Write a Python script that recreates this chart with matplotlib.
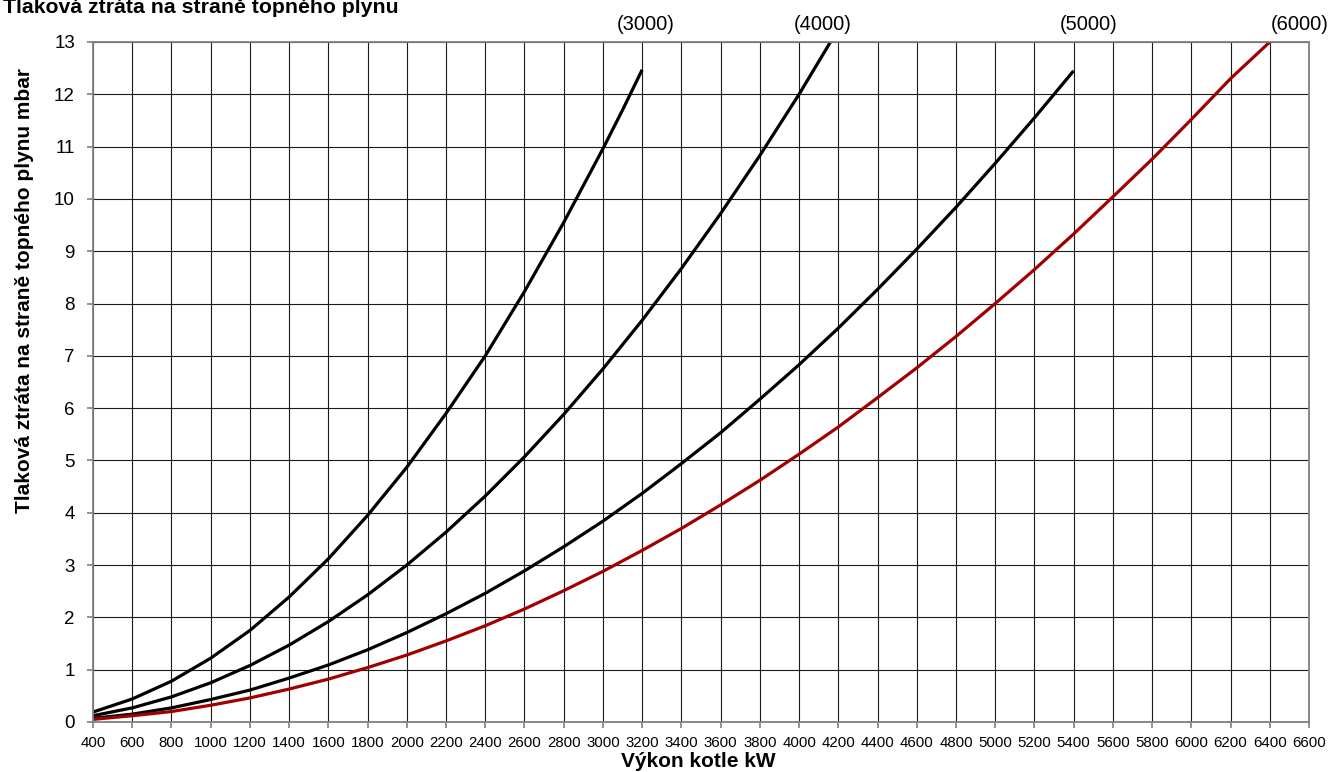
import matplotlib
matplotlib.use("Agg")
import matplotlib.pyplot as plt

plt.rcParams['font.family'] = ['Liberation Sans', 'DejaVu Sans']

title = "Tlaková ztráta na straně topného plynu"
x_label = "Výkon kotle kW"
y_label = "Tlaková ztráta na straně topného plynu mbar"

x_ticks = list(range(400, 6601, 200))
y_ticks = list(range(0, 14))

# Curve (3000)
x_3000 = [400, 600, 800, 1000, 1200, 1400, 1600, 1800, 2000, 2200, 2400, 2600, 2800, 3000, 3100, 3200]
y_3000 = [0.19, 0.44, 0.78, 1.22, 1.75, 2.39, 3.12, 3.95, 4.87, 5.9, 7.0, 8.23, 9.55, 10.96, 11.7, 12.47]

# Curve (4000)
x_4000 = [400, 600, 800, 1000, 1200, 1400, 1600, 1800, 2000, 2200, 2400, 2600, 2800, 3000,
          3200, 3400, 3600, 3800, 4000, 4160]
y_4000 = [0.12, 0.27, 0.48, 0.75, 1.08, 1.47, 1.92, 2.43, 3.0, 3.63, 4.32, 5.07, 5.88, 6.75,
          7.68, 8.67, 9.72, 10.83, 12.0, 13.0]

# Curve (5000)
x_5000 = [400, 600, 800, 1000, 1200, 1400, 1600, 1800, 2000, 2200, 2400, 2600, 2800, 3000,
          3200, 3400, 3600, 3800, 4000, 4200, 4400, 4600, 4800, 5000, 5200, 5400]
y_5000 = [0.07, 0.15, 0.27, 0.43, 0.61, 0.84, 1.09, 1.38, 1.71, 2.07, 2.46, 2.89, 3.35, 3.84,
          4.37, 4.94, 5.53, 6.17, 6.83, 7.53, 8.27, 9.04, 9.84, 10.68, 11.55, 12.45]

# Curve (6000)
x_6000 = [400, 600, 800, 1000, 1200, 1400, 1600, 1800, 2000, 2200, 2400, 2600, 2800, 3000,
          3200, 3400, 3600, 3800, 4000, 4200, 4400, 4600, 4800, 5000, 5200, 5400, 5600, 5800,
          6000, 6200, 6400]
y_6000 = [0.05, 0.12, 0.2, 0.32, 0.46, 0.63, 0.82, 1.04, 1.28, 1.55, 1.84, 2.16, 2.51, 2.88,
          3.28, 3.7, 4.15, 4.62, 5.12, 5.64, 6.2, 6.77, 7.37, 8.0, 8.65, 9.33, 10.04, 10.76,
          11.52, 12.3, 13.0]

curve_labels = ["(3000)", "(4000)", "(5000)", "(6000)"]
label_x = [3216, 4121, 5475, 6554]

W, H = 1328, 772
fig = plt.figure(figsize=(W / 100, H / 100), dpi=100)
ax = fig.add_axes([93 / W, 1 - 722 / H, (1309 - 93) / W, (722 - 42) / H])

ax.set_xlim(400, 6600)
ax.set_ylim(0, 13)
ax.set_xticks(x_ticks)
ax.set_yticks(y_ticks)
ax.set_xticklabels([str(v) for v in x_ticks], fontsize=10.8)
ax.set_yticklabels([str(v) for v in y_ticks], fontsize=13.5)
ax.grid(True, color='#1a1a1a', linewidth=0.8)
ax.set_axisbelow(True)
for s in ax.spines.values():
    s.set_color('#808080')
    s.set_linewidth(1.3)
ax.tick_params(axis='x', direction='out', length=4, color='#808080', width=1.2, pad=6)
ax.tick_params(axis='y', direction='out', length=4, color='#808080', width=1.2, pad=9)

lw = 2.3
ax.plot(x_3000, y_3000, color='black', lw=lw, solid_capstyle='butt')
ax.plot(x_4000, y_4000, color='black', lw=lw, solid_capstyle='butt')
ax.plot(x_5000, y_5000, color='black', lw=lw, solid_capstyle='butt')
ax.plot(x_6000, y_6000, color='#a00000', lw=lw, solid_capstyle='butt')

for lab, lx in zip(curve_labels, label_x):
    ax.text(lx, 13.33, lab, ha='center', va='center', fontsize=14.5, clip_on=False)

fig.text(3 / W, 1 - 13 / H, title, fontsize=15.3, fontweight='bold', ha='left', va='baseline')
ax.set_xlabel(x_label, fontsize=15, fontweight='bold')
ax.xaxis.set_label_coords(0.4975, -0.0588)
ax.xaxis.label.set_va('center')
ax.set_ylabel(y_label, fontsize=15, fontweight='bold')
ax.yaxis.set_label_coords(-0.056, 0.634)
ax.yaxis.label.set_va('center')

fig.savefig("out.png", dpi=100)
